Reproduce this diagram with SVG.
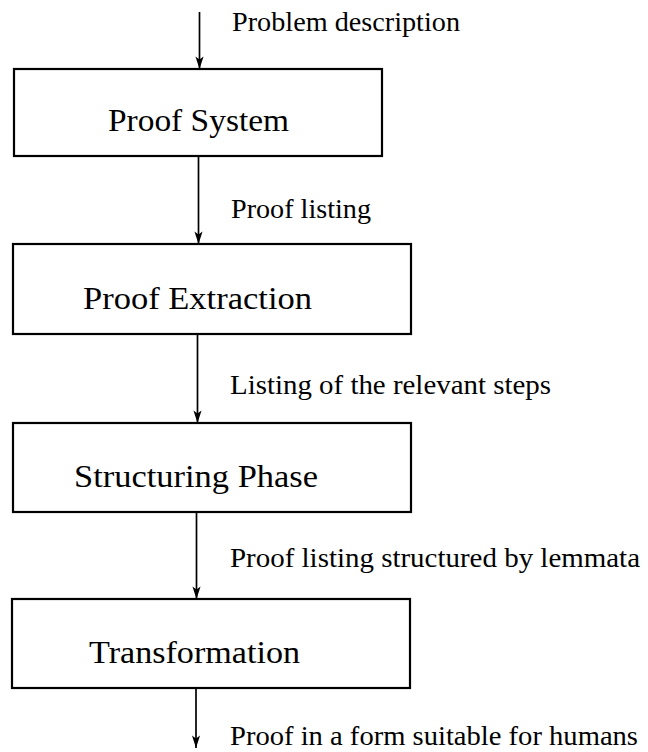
<svg xmlns="http://www.w3.org/2000/svg" width="648" height="752" viewBox="0 0 648 752">
<style>
.box{fill:#fff;stroke:#000;stroke-width:2.2}
.edge{fill:none;stroke:#000;stroke-width:1.7}
.node{font-family:"Liberation Serif","Times New Roman",serif;font-size:32px;fill:#000;text-anchor:middle}
.lbl{font-family:"Liberation Serif","Times New Roman",serif;font-size:27px;fill:#000}
</style>
<defs>
<marker id="ah" viewBox="0 0 14 10" refX="14" refY="5" markerWidth="14" markerHeight="9" markerUnits="userSpaceOnUse" orient="auto">
<path d="M0,0.5 L14,5 L0,9.5 L3.5,5 Z" fill="#000"/>
</marker>
</defs>
<rect width="648" height="752" fill="#fff"/>
<g id="connectors">
<line class="edge" x1="199.5" y1="12" x2="199.5" y2="69" marker-end="url(#ah)"/>
<line class="edge" x1="198.5" y1="156" x2="198.5" y2="244" marker-end="url(#ah)"/>
<line class="edge" x1="197.5" y1="334" x2="197.5" y2="423" marker-end="url(#ah)"/>
<line class="edge" x1="196.5" y1="512" x2="196.5" y2="599" marker-end="url(#ah)"/>
<line class="edge" x1="196" y1="688" x2="196" y2="748" marker-end="url(#ah)"/>
<text class="lbl" x="232" y="31" textLength="228" lengthAdjust="spacingAndGlyphs">Problem description</text>
<text class="lbl" x="231" y="218" textLength="140" lengthAdjust="spacingAndGlyphs">Proof listing</text>
<text class="lbl" x="230" y="394" textLength="321" lengthAdjust="spacingAndGlyphs">Listing of the relevant steps</text>
<text class="lbl" x="230" y="567" textLength="410" lengthAdjust="spacingAndGlyphs">Proof listing structured by lemmata</text>
<text class="lbl" x="230" y="745" textLength="408" lengthAdjust="spacingAndGlyphs">Proof in a form suitable for humans</text>
</g>
<g id="proof-system">
<rect class="box" x="14" y="69" width="368" height="87"/>
<text class="node" x="198.5" y="131" textLength="181" lengthAdjust="spacingAndGlyphs">Proof System</text>
</g>
<g id="proof-extraction">
<rect class="box" x="13" y="244" width="398" height="90"/>
<text class="node" x="197.5" y="309" textLength="229" lengthAdjust="spacingAndGlyphs">Proof Extraction</text>
</g>
<g id="structuring-phase">
<rect class="box" x="13" y="423" width="398" height="89"/>
<text class="node" x="196" y="487" textLength="244" lengthAdjust="spacingAndGlyphs">Structuring Phase</text>
</g>
<g id="transformation">
<rect class="box" x="12" y="599" width="398" height="89"/>
<text class="node" x="194.5" y="663" textLength="211" lengthAdjust="spacingAndGlyphs">Transformation</text>
</g>
</svg>
